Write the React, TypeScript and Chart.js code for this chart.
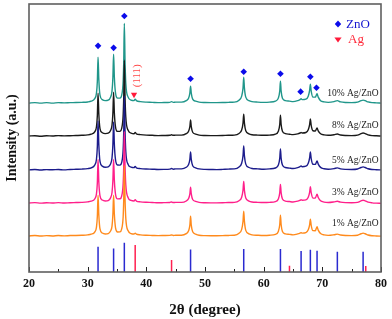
import { useEffect, useRef } from "react";
import { Chart, registerables } from "chart.js";

Chart.register(...registerables);

// 2θ sampling positions (degree)
const twoTheta = [
  20, 21, 22, 23, 24, 25, 26, 27, 28, 29,
  30, 30.6, 31.2, 31.5, 31.65, 31.77, 31.9, 32.1, 32.5, 33,
  33.5, 33.9, 34.15, 34.3, 34.42, 34.55, 34.75, 35.1, 35.5, 35.8,
  36.05, 36.15, 36.25, 36.37, 36.5, 36.9, 37.4, 37.9, 38.1, 38.3,
  39, 40, 41, 42, 43, 44, 44.3, 44.6, 45, 46,
  46.8, 47.2, 47.42, 47.54, 47.66, 47.9, 48.4, 49, 50, 51,
  52, 53, 54, 55, 55.8, 56.25, 56.48, 56.6, 56.72, 56.95,
  57.5, 58, 59, 60, 61, 62, 62.5, 62.74, 62.86, 62.98,
  63.2, 63.7, 64.4, 65, 65.8, 66.2, 66.38, 66.55, 67.2, 67.6,
  67.84, 67.96, 68.1, 68.4, 68.8, 69.1, 69.3, 69.7, 70.3, 71,
  72, 72.56, 73.1, 74, 75, 76, 76.6, 76.95, 77.3, 77.8,
  78.5, 79.2, 80,
];

// intensities (a.u., stacked as in the figure)
const pattern10 = [
  169.5, 170, 169.5, 170, 169.5, 170, 169.8, 170, 170.1, 170.3,
  170.7, 171.5, 174, 179.5, 191.5, 215.5, 193.5, 177.5, 173, 172,
  172.5, 175.5, 181.5, 195.5, 218.5, 195.5, 179.5, 174.5, 174.5, 177.5,
  191.5, 211.5, 249.5, 211.5, 189.5, 175.5, 172.5, 172, 173.5, 172,
  171, 170.5, 170.3, 170, 170.1, 170.3, 171, 170.3, 170.5, 170.5,
  172, 174.5, 179.5, 186.5, 179.5, 173.5, 171.5, 170.5, 170.1, 170,
  170, 170.1, 170.3, 170.5, 172.5, 176.5, 184.5, 195.5, 184.5, 175.5,
  172, 171, 170.5, 170.3, 170.5, 171.5, 174.5, 181.5, 191.5, 181.5,
  174.5, 172, 171.5, 171, 172, 173, 174, 173, 173.5, 176.5,
  182.5, 188.5, 181.5, 175.5, 175.5, 179, 175.5, 172, 170.7, 170.3,
  171, 172, 170.7, 170.1, 170, 170.5, 172, 172.5, 172, 170.7,
  170, 169.8, 169.5,
];
const pattern8 = [
  136.5, 136.8, 136.3, 136.8, 136.5, 136.9, 136.6, 136.8, 137, 137.2,
  137.6, 138.4, 140.7, 145.8, 157, 179.5, 158.9, 144, 139.8, 138.9,
  139.3, 142, 147.5, 159.5, 180.5, 159.5, 145.5, 141.1, 141.2, 144.1,
  157.5, 176.5, 212.5, 176.5, 155.5, 142.2, 139.4, 138.8, 140, 138.7,
  137.9, 137.4, 137.2, 136.9, 137, 137.2, 137.7, 137.2, 137.4, 137.4,
  138.9, 141.2, 146, 152.5, 146, 140.3, 138.4, 137.4, 137, 136.9,
  136.9, 137, 137.2, 137.4, 139.1, 142.5, 149.5, 158.5, 149.5, 141.8,
  138.7, 137.8, 137.4, 137.2, 137.4, 138.4, 141.3, 148, 157.5, 148,
  141.3, 138.9, 138.3, 137.9, 138.7, 139.5, 140, 139.5, 140, 142.8,
  148.2, 153.5, 147.2, 141.8, 141.5, 144.5, 141.6, 138.8, 137.6, 137.2,
  137.8, 138.5, 137.5, 137, 136.9, 137.4, 138.8, 139.5, 138.9, 137.6,
  136.9, 136.7, 136.5,
];
const pattern5 = [
  102.5, 102.9, 102.4, 102.8, 102.6, 102.9, 102.5, 102.9, 103.1, 103.3,
  103.8, 104.6, 107.3, 113.2, 126, 151.5, 128, 111, 106.3, 105.2,
  105.6, 108.4, 114.5, 128, 150.5, 128, 112.5, 107.4, 107.3, 110,
  123, 141.5, 176.5, 141.5, 121, 108, 105.3, 104.8, 106, 104.6,
  103.8, 103.4, 103.2, 102.9, 103, 103.3, 103.9, 103.2, 103.5, 103.5,
  105.1, 107.8, 113, 120.5, 113, 106.7, 104.6, 103.5, 103, 102.9,
  102.8, 103, 103.3, 103.5, 105.4, 109.2, 116.6, 126.5, 116.6, 108.3,
  104.9, 103.9, 103.5, 103.2, 103.5, 104.4, 107.3, 114, 123.5, 114,
  107.3, 104.9, 104.3, 103.9, 104.8, 105.7, 106.5, 105.7, 106.2, 109.1,
  114.8, 120.5, 113.8, 108.2, 108, 111.5, 108.3, 105, 103.6, 103.2,
  103.8, 104.5, 103.5, 103, 102.9, 103.4, 104.9, 105.5, 104.9, 103.6,
  102.9, 102.7, 102.5,
];
const pattern3 = [
  69.3, 69.6, 69.1, 69.5, 69.2, 69.6, 69.2, 69.5, 69.7, 69.9,
  70.4, 71.1, 73.3, 78.5, 89.5, 113, 90.5, 76.5, 72.2, 71.2,
  71.6, 74.4, 79.8, 92, 113, 92, 78, 73.4, 73.5, 76.3,
  88.8, 107, 141, 107, 87.5, 74.6, 71.8, 71.3, 72.5, 71.2,
  70.4, 70, 69.8, 69.5, 69.6, 69.8, 70.3, 69.7, 69.9, 69.9,
  71.3, 73.7, 78.4, 85, 78.4, 72.8, 70.9, 69.9, 69.5, 69.4,
  69.4, 69.5, 69.7, 69.9, 71.6, 75.1, 82.2, 91, 82, 74.3,
  71.2, 70.3, 69.9, 69.7, 69.9, 70.7, 73.3, 79.4, 88, 79.4,
  73.3, 71.2, 70.7, 70.3, 71.1, 72, 72.5, 72, 72.4, 75,
  80.2, 85.5, 79.6, 74.2, 74.3, 78, 74.8, 71.5, 70.2, 69.8,
  70.4, 71, 70.1, 69.6, 69.5, 69.9, 71.4, 72, 71.4, 70.1,
  69.4, 69.1, 68.9,
];
const pattern1 = [
  36.2, 36.6, 36.1, 36.5, 36.2, 36.6, 36.3, 36.6, 36.7, 36.9,
  37.3, 38, 40.1, 45, 56, 77, 57.5, 43.2, 39.1, 38.2,
  38.6, 41.2, 46.1, 58, 77, 58, 44.4, 40.2, 40.3, 43.3,
  55.5, 73.5, 107, 73.5, 53.8, 41.3, 38.6, 38.1, 39, 38,
  37.3, 36.9, 36.7, 36.5, 36.6, 36.8, 37.2, 36.7, 36.9, 36.9,
  38.5, 41.3, 47, 56, 47, 40.4, 38.1, 36.9, 36.5, 36.4,
  36.4, 36.5, 36.7, 36.9, 38.9, 42.8, 50.8, 61, 50.8, 41.8,
  38.3, 37.3, 36.9, 36.7, 36.9, 37.8, 40.7, 47.4, 57, 47.4,
  40.7, 38.3, 37.8, 37.3, 38.2, 39, 39.5, 39, 39.5, 42.3,
  47.6, 53, 46.9, 41.5, 41.4, 45.5, 42, 38.6, 37.2, 36.8,
  37.4, 38, 37.1, 36.6, 36.5, 36.9, 38.4, 39, 38.4, 37.1,
  36.4, 36.2, 36,
];

const seriesLabels = ["1% Ag/ZnO", "3% Ag/ZnO", "5% Ag/ZnO", "8% Ag/ZnO", "10% Ag/ZnO"];
const seriesData = [pattern1, pattern3, pattern5, pattern8, pattern10];
const seriesColors = ["#ff8a1c", "#ff1f8a", "#1c1c8c", "#1a1a1a", "#20968a"];
const seriesLabelY = [49, 80, 112, 147.5, 179];
const seriesLabelX = 79.6;

// standard reference lines
const znoRefPos = [31.77, 34.42, 36.25, 47.54, 56.6, 62.86, 66.38, 67.96, 69.1, 72.56, 76.95];
const znoRefInt = [25.3, 23.7, 29.3, 22.7, 23, 23, 21, 22.3, 21.3, 20.3, 20.3];
const agRefPos = [38.1, 44.3, 64.4, 77.4];
const agRefInt = [27, 12, 6.3, 6];

// peak markers
const znoMarkX = [31.77, 34.42, 36.25, 47.54, 56.6, 62.86, 66.3, 67.96, 69.0];
const znoMarkY = [227, 225, 257, 194, 201, 199, 181, 196, 185];
const agMarkX = [37.9];
const agMarkY = [178];
const agPeakLabel = "(111)";
const agPeakLabelX = 38.45;
const agPeakLabelY = 197;

const xTickValues = [20, 25, 30, 35, 40, 45, 50, 55, 60, 65, 70, 75, 80];

const SERIF = "'Liberation Serif', 'Times New Roman', serif";

const decorPlugin = {
  id: "decor",
  afterDatasetsDraw(chart: any) {
    const { ctx, chartArea: a, scales } = chart;
    const x = scales.x;
    const y = scales.y;
    ctx.save();
    // inner tick marks
    ctx.strokeStyle = "#222";
    ctx.lineWidth = 1;
    for (const t of xTickValues) {
      const px = Math.round(x.getPixelForValue(t)) + 0.5;
      const len = t % 10 === 0 ? 5 : 3;
      ctx.beginPath();
      ctx.moveTo(px, a.bottom);
      ctx.lineTo(px, a.bottom - len);
      ctx.stroke();
    }
    // frame
    ctx.strokeStyle = "#5f5f5f";
    ctx.lineWidth = 1.6;
    ctx.strokeRect(a.left, a.top, a.right - a.left, a.bottom - a.top);

    // series labels
    ctx.fillStyle = "#222";
    ctx.font = `9.5px ${SERIF}`;
    ctx.textAlign = "right";
    ctx.textBaseline = "middle";
    seriesLabels.forEach((s, i) => {
      ctx.fillText(s, x.getPixelForValue(seriesLabelX), y.getPixelForValue(seriesLabelY[i]));
    });

    // (111) label rotated
    ctx.save();
    ctx.translate(x.getPixelForValue(agPeakLabelX), y.getPixelForValue(agPeakLabelY));
    ctx.rotate(-Math.PI / 2);
    ctx.fillStyle = "#ff4a4a";
    ctx.font = `11px ${SERIF}`;
    ctx.textAlign = "center";
    ctx.textBaseline = "middle";
    ctx.fillText(agPeakLabel, 0, 0);
    ctx.restore();

    // legend
    const lx = a.right - 43;
    const ly1 = a.top + 20;
    const ly2 = a.top + 36;
    ctx.fillStyle = "#0b0bea";
    ctx.beginPath();
    ctx.moveTo(lx, ly1 - 3.4);
    ctx.lineTo(lx + 3.2, ly1);
    ctx.lineTo(lx, ly1 + 3.4);
    ctx.lineTo(lx - 3.2, ly1);
    ctx.closePath();
    ctx.fill();
    ctx.font = `13px ${SERIF}`;
    ctx.textAlign = "left";
    ctx.textBaseline = "middle";
    ctx.fillStyle = "#1515d0";
    ctx.fillText("ZnO", lx + 8, ly1 + 0.5);
    ctx.fillStyle = "#ff1a3a";
    ctx.beginPath();
    ctx.moveTo(lx - 3.6, ly2 - 2.5);
    ctx.lineTo(lx + 3.6, ly2 - 2.5);
    ctx.lineTo(lx, ly2 + 2.5);
    ctx.closePath();
    ctx.fill();
    ctx.fillStyle = "#ff2a3a";
    ctx.fillText("Ag", lx + 10, ly2);
    ctx.restore();
  },
};

function refSegments(pos: number[], inten: number[]) {
  const out: any[] = [];
  pos.forEach((p, i) => {
    out.push({ x: p, y: 0 }, { x: p, y: inten[i] }, { x: p, y: null });
  });
  return out;
}

export default function App() {
  const canvasRef = useRef<HTMLCanvasElement | null>(null);

  useEffect(() => {
    if (!canvasRef.current) return;
    const datasets: any[] = [
      {
        type: "scatter",
        data: znoMarkX.map((v, i) => ({ x: v, y: znoMarkY[i] })),
        pointStyle: "rectRot",
        pointRadius: 3.3,
        backgroundColor: "#0b0bea",
        borderWidth: 0,
      },
      {
        type: "scatter",
        data: agMarkX.map((v, i) => ({ x: v, y: agMarkY[i] })),
        pointStyle: "triangle",
        rotation: 180,
        pointRadius: 3.6,
        backgroundColor: "#ff1a3a",
        borderWidth: 0,
      },
      ...seriesData.map((arr, k) => ({
        type: "line",
        label: seriesLabels[k],
        data: twoTheta.map((v, i) => ({ x: v, y: arr[i] })),
        borderColor: seriesColors[k],
        borderWidth: 1.4,
        pointRadius: 0,
        cubicInterpolationMode: "monotone",
        fill: false,
      })),
      {
        type: "line",
        data: refSegments(znoRefPos, znoRefInt),
        borderColor: "#2a2ad0",
        borderWidth: 1.5,
        pointRadius: 0,
        spanGaps: false,
      },
      {
        type: "line",
        data: refSegments(agRefPos, agRefInt),
        borderColor: "#ff2050",
        borderWidth: 1.5,
        pointRadius: 0,
        spanGaps: false,
      },
    ];

    const chart = new Chart(canvasRef.current, {
      type: "line",
      data: { datasets },
      options: {
        animation: false,
        responsive: false,
        devicePixelRatio: 1,
        layout: { padding: { top: 3, right: 8, left: 0, bottom: 0 } },
        plugins: { legend: { display: false }, tooltip: { enabled: false } },
        scales: {
          x: {
            type: "linear",
            min: 20,
            max: 80,
            afterFit: (s: any) => {
              s.height = 47;
            },
            grid: { display: false, drawTicks: false },
            border: { display: false },
            ticks: {
              stepSize: 10,
              padding: 5,
              color: "#111",
              font: { family: SERIF, size: 12, weight: "bold" },
            },
            title: {
              display: true,
              text: "2θ (degree)",
              color: "#111",
              padding: { top: 1, bottom: 0 },
              font: { family: SERIF, size: 15, weight: "bold" },
            },
          },
          y: {
            min: 0,
            max: 269,
            afterFit: (s: any) => {
              s.width = 29;
            },
            grid: { display: false, drawTicks: false },
            border: { display: false },
            ticks: { display: false },
            title: {
              display: true,
              text: "Intensity (a.u.)",
              color: "#111",
              padding: { top: 4, bottom: 0 },
              font: { family: SERIF, size: 14, weight: "bold" },
            },
          },
        },
      } as any,
      plugins: [decorPlugin],
    });
    return () => chart.destroy();
  }, []);

  return (
    <div style={{ position: "fixed", left: 0, top: 0, width: 392, height: 319, background: "#fff" }}>
      <canvas ref={canvasRef} width={392} height={319} />
    </div>
  );
}
